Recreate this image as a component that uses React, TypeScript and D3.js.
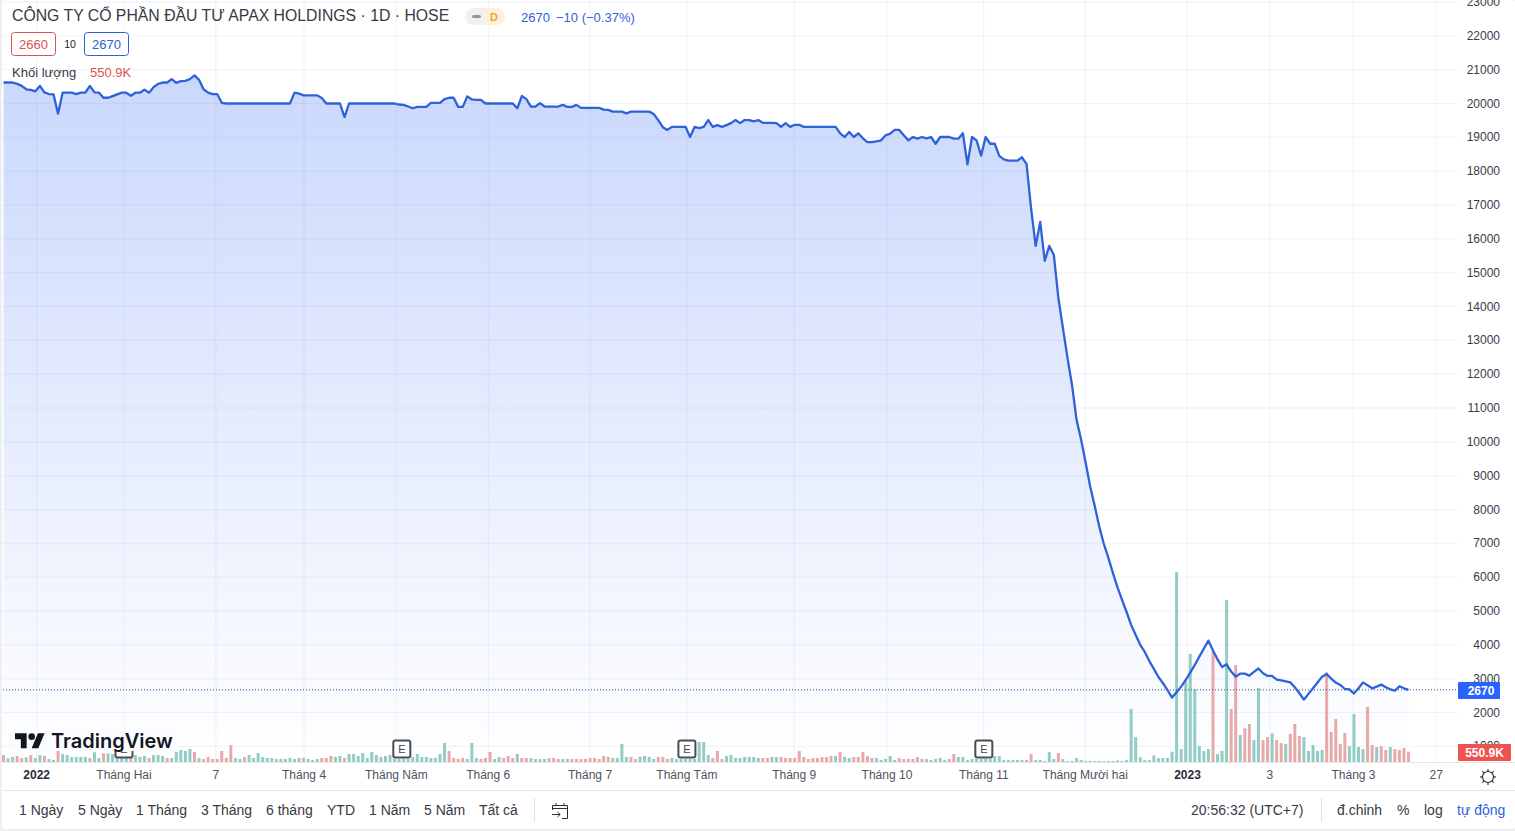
import * as d3 from "d3";

const closes = [
  20620, 20620, 20620, 20580, 20520, 20420, 20400, 20360, 20520, 20330,
  20280, 20270, 19700, 20320, 20320, 20320, 20280, 20320, 20320, 20520,
  20330, 20320, 20170, 20170, 20220, 20270, 20320, 20320, 20230, 20320,
  20320, 20410, 20320, 20480, 20580, 20620, 20620, 20720, 20610, 20660,
  20670, 20720, 20830, 20700, 20420, 20320, 20280, 20280, 20020, 20000,
  20000, 20000, 20000, 20000, 20000, 20000, 20000, 20000, 20000, 20000,
  20000, 20000, 20000, 20000, 20320, 20290, 20240, 20240, 20240, 20240,
  20160, 20000, 20000, 20000, 20000, 19600, 20000, 20000, 20000, 20000,
  20000, 20000, 20000, 20000, 20000, 20000, 20000, 19970, 19960, 19910,
  19860, 19900, 19900, 19900, 20020, 20020, 20020, 20130, 20170, 20170,
  19900, 19900, 20210, 20120, 20110, 20110, 20000, 20000, 20000, 20000,
  20000, 20000, 20000, 19860, 20220, 20130, 19910, 19910, 20010, 19910,
  19910, 19910, 19910, 19960, 19900, 19900, 19960, 19870, 19870, 19870,
  19870, 19870, 19820, 19810, 19760, 19760, 19760, 19710, 19760, 19760,
  19760, 19760, 19760, 19690, 19510, 19300, 19220, 19310, 19310, 19310,
  19310, 19010, 19310, 19270, 19310, 19510, 19310, 19360, 19310, 19360,
  19420, 19510, 19420, 19510, 19510, 19470, 19510, 19430, 19430, 19430,
  19420, 19310, 19420, 19310, 19370, 19370, 19310, 19310, 19310, 19310,
  19310, 19310, 19310, 19310, 19120, 19010, 19160, 19010, 19120, 18970,
  18860, 18860, 18880, 18910, 19060, 19110, 19220, 19220, 19060, 18910,
  19010, 18960, 19010, 18970, 19010, 18810, 19010, 19010, 19010, 18960,
  18960, 19120, 18200, 19010, 18910, 18460, 19010, 18810, 18810, 18450,
  18350, 18310, 18310, 18310, 18410, 18210, 16890, 15790, 16500, 15350,
  15790, 15520, 14250, 13360, 12480, 11680, 10650, 10060, 9380, 8670,
  8100, 7490, 6980, 6570, 6120, 5700, 5330, 4970, 4590, 4290,
  4000, 3790, 3520, 3290, 3050, 2870, 2660, 2440, 2600, 2765,
  2960, 3180, 3405, 3650, 3890, 4125, 3830, 3570, 3345, 3425,
  3210, 3060, 3150, 3150, 3090, 3200, 3300, 3160, 3080, 3080,
  2970, 2950, 2920, 2890, 2745, 2570, 2380, 2550, 2715, 2885,
  3060, 3140, 3000, 2885, 2815, 2695, 2685, 2560, 2715, 2890,
  2805, 2715, 2765, 2825, 2745, 2685, 2645, 2775, 2715, 2670,
];

// volume in thousands
const volumes = [
  375, 200, 270, 320, 215, 250, 375, 215, 375, 320,
  160, 110, 625, 430, 375, 270, 270, 270, 270, 215,
  520, 215, 465, 465, 430, 375, 320, 270, 320, 375,
  270, 320, 215, 375, 375, 320, 215, 215, 535, 640,
  590, 700, 535, 215, 160, 270, 160, 160, 590, 215,
  910, 215, 160, 270, 375, 215, 480, 270, 215, 215,
  160, 160, 160, 215, 160, 215, 230, 160, 110, 160,
  215, 215, 320, 270, 320, 215, 430, 430, 320, 480,
  215, 535, 375, 270, 320, 375, 160, 160, 160, 160,
  270, 430, 270, 270, 215, 215, 430, 1020, 590, 215,
  160, 215, 160, 1020, 215, 160, 215, 535, 160, 270,
  215, 320, 215, 430, 215, 215, 215, 160, 160, 160,
  215, 215, 160, 160, 160, 160, 160, 160, 160, 215,
  215, 160, 320, 270, 215, 215, 960, 270, 270, 160,
  270, 320, 270, 160, 270, 270, 160, 215, 160, 160,
  160, 160, 160, 1070, 1070, 375, 215, 590, 160, 320,
  375, 215, 215, 270, 270, 270, 215, 215, 215, 270,
  270, 270, 215, 215, 215, 590, 270, 160, 215, 215,
  270, 270, 320, 320, 535, 270, 215, 270, 270, 535,
  320, 215, 215, 110, 160, 320, 110, 215, 160, 160,
  160, 270, 160, 160, 110, 160, 215, 110, 160, 430,
  270, 270, 110, 160, 160, 160, 160, 160, 320, 320,
  110, 110, 110, 110, 110, 110, 430, 110, 110, 55,
  535, 160, 480, 160, 55, 55, 215, 110, 55, 55,
  55, 55, 40, 50, 50, 80, 50, 100, 2830, 1330,
  250, 100, 100, 350, 210, 210, 210, 550, 10150, 690,
  4290, 5770, 3900, 850, 590, 690, 5890, 430, 590, 8650,
  2830, 5180, 1440, 1800, 2030, 1170, 3950, 1170, 1330, 1530,
  1170, 1010, 960, 1500, 2030, 1390, 1330, 590, 910, 590,
  640, 4790, 1600, 2300, 960, 1550, 850, 2560, 800, 690,
  2940, 910, 800, 850, 640, 800, 690, 640, 750, 551,
];

// u = up bar, d = down bar, one letter per session
const volumeDirs = [
  "duudduduud", "uuduuuuuud", "uuduuuuudu", "uuduuuduuu", "uududddddd",
  "duuduuuuuu", "uuuuuuduuu", "ddduuduuuu", "uuuuuuuuuu", "uuuuuuuudd",
  "dduuuddduu", "dddudduuuu", "ddduuddddd", "dddduuuudd", "uuuuddduuu",
  "uuuuuudddu", "uuuuuuuddu", "uddddddddd", "ddduduuddd", "dduuuuuddd",
  "dduduuuudd", "uuuuuuuuuu", "uuuuudduuu", "uuduuuuuuu", "uuuuuuuuuu",
  "uuuuuuuuuu", "uuuuuuduuu", "ddudduuddu", "dduddduuuu", "uddddduuuu",
  "dduddudddd",
].join("");

const priceTicks = d3.range(1000, 23001, 1000);

const timeTicks = [
  { at: 7.3, label: "2022", bold: true },
  { at: 26.5, label: "Tháng Hai" },
  { at: 46.7, label: "7" },
  { at: 66.1, label: "Tháng 4" },
  { at: 86.4, label: "Tháng Năm" },
  { at: 106.6, label: "Tháng 6" },
  { at: 129, label: "Tháng 7" },
  { at: 150.3, label: "Tháng Tám" },
  { at: 173.9, label: "Tháng 9" },
  { at: 194.3, label: "Tháng 10" },
  { at: 215.6, label: "Tháng 11" },
  { at: 237.9, label: "Tháng Mười hai" },
  { at: 260.4, label: "2023", bold: true },
  { at: 278.5, label: "3" },
  { at: 296.9, label: "Tháng 3" },
  { at: 315.1, label: "27" },
];

const earningsAt = [26.5, 87.6, 150.3, 215.6];

const rangeButtons = [
  { x: 19, label: "1 Ngày" },
  { x: 78, label: "5 Ngày" },
  { x: 136, label: "1 Tháng" },
  { x: 201, label: "3 Tháng" },
  { x: 266, label: "6 tháng" },
  { x: 327, label: "YTD" },
  { x: 369, label: "1 Năm" },
  { x: 424, label: "5 Năm" },
  { x: 479, label: "Tất cả" },
];

const font = "'Liberation Sans', Arial, sans-serif";
const blue = "#2f62d8";
const red = "#d9534f";
const gridStroke = "rgba(120,140,200,0.11)";
const paneBottom = 762;

const x = d3.scaleLinear().domain([0, closes.length - 1]).range([3.5, 1408.5]);
const y = d3.scaleLinear().domain([2000, 23000]).range([712.5, 2]);
const yVol = d3.scaleLinear().domain([0, 10150]).range([paneBottom, 572]);

export default function App() {
  const line = d3.line<number>().x((_, i) => x(i)).y((d) => y(d));
  const area = d3.area<number>().x((_, i) => x(i)).y0(paneBottom).y1((d) => y(d));
  const lastY = y(closes[closes.length - 1]);

  return (
    <>
      <style>{`html,body{margin:0;background:#eceef2;overflow:hidden}`}</style>
      <svg width={1515} height={831} style={{ display: "block" }} fontFamily={font}>
        <defs>
          <linearGradient id="fade" gradientUnits="userSpaceOnUse" x1="0" y1="75" x2="0" y2={paneBottom}>
            <stop offset="0" stopColor="#cad8fc" />
            <stop offset="1" stopColor="#ffffff" />
          </linearGradient>
        </defs>
        <rect x={2} y={0} width={1513} height={829} rx={3} fill="#fff" />

        <path d={area(closes) ?? ""} fill="url(#fade)" />

        {/* grid sits over the fill, it shows through faintly */}
        {priceTicks.map((t) => (
          <line key={t} x1={3} x2={1457} y1={y(t)} y2={y(t)} stroke={gridStroke} />
        ))}
        {timeTicks.map((t) => (
          <line key={t.label} x1={x(t.at)} x2={x(t.at)} y1={0} y2={paneBottom} stroke={gridStroke} />
        ))}

        {volumes.map((v, i) => (
          <rect
            key={i}
            x={x(i) - 1.5}
            y={yVol(v)}
            width={3}
            height={paneBottom - yVol(v)}
            fill={volumeDirs[i] === "d" ? "#e8a9a9" : "#92ccc5"}
          />
        ))}

        <line x1={3} x2={1458} y1={lastY} y2={lastY} stroke="#2f4f9f" strokeDasharray="1 2" />
        <path d={line(closes) ?? ""} fill="none" stroke={blue} strokeWidth={2.3} strokeLinejoin="round" />

        {/* earnings markers */}
        {earningsAt.map((at) => (
          <g key={at} transform={`translate(${x(at)},749)`}>
            <rect x={-8.5} y={-8.5} width={17} height={17} rx={2} fill="#fff" stroke="#4a4d57" strokeWidth={2} />
            <text y={4} textAnchor="middle" fontSize={11} fill="#444">E</text>
          </g>
        ))}

        {/* watermark, its backing hides the top of the first marker */}
        <rect x={12} y={730} width={164} height={21} fill="#fbfcff" />
        <g fill="#131722">
          <g transform="translate(15,730) scale(0.833)">
            <path d="M14 22H7V11H0V4h14v18zM28 22h-8l7.5-18h8L28 22z" />
            <circle cx={20} cy={8} r={4} />
          </g>
          <text x={51} y={748} fontFamily="Inter, 'Open Sans', sans-serif" fontWeight={600} fontSize={20}>TradingView</text>
        </g>

        {/* price scale */}
        {priceTicks.map((t) => (
          <text key={t} x={1500} y={y(t) + 4} textAnchor="end" fontSize={12} fill="#3a3d47">{t}</text>
        ))}
        <rect x={1458} y={682} width={42} height={17} rx={1} fill="#2962ff" />
        <text x={1481} y={695} textAnchor="middle" fontSize={12} fontWeight={700} fill="#fff">2670</text>
        <rect x={1458} y={744} width={53} height={17} rx={1} fill="#ef5350" />
        <text x={1484.5} y={757} textAnchor="middle" fontSize={12} fontWeight={700} fill="#fff">550.9K</text>

        {/* time scale */}
        <line x1={3} x2={1515} y1={paneBottom + 0.5} y2={paneBottom + 0.5} stroke="#e4e6ec" />
        {timeTicks.map((t) => (
          <text
            key={t.label}
            x={x(t.at)}
            y={779}
            textAnchor="middle"
            fontSize={12}
            fontWeight={t.bold ? 700 : 400}
            fill={t.bold ? "#2a2e39" : "#50535e"}
          >
            {t.label}
          </text>
        ))}
        <g transform="translate(1488,777)" stroke="#2a2e39" strokeWidth={1.2} fill="none">
          <circle r={5.5} />
          {d3.range(0, 360, 45).map((a) => (
            <line key={a} x1={5.5} x2={8} transform={`rotate(${a})`} />
          ))}
        </g>
        <line x1={3} x2={1515} y1={790.5} y2={790.5} stroke="#e0e3eb" />

        {/* header */}
        <text x={12} y={21} fontSize={15.8} fill="#363a45">CÔNG TY CỔ PHẦN ĐẦU TƯ APAX HOLDINGS · 1D · HOSE</text>
        <rect x={465} y={8} width={40} height={17} rx={8.5} fill="#eff0f3" />
        <path d="M484 8h12.5a8.5 8.5 0 0 1 0 17H484z" fill="#fdf0dc" />
        <rect x={472} y={15} width={9} height={3} rx={1.5} fill="#9598a1" />
        <text x={494} y={21} textAnchor="middle" fontSize={11} fontWeight={700} fill="#f5a623">D</text>
        <text x={521} y={22} fontSize={13} fill={blue}>2670</text>
        <text x={556} y={22} fontSize={13} fill={blue}>−10 (−0.37%)</text>

        <rect x={11.5} y={32.5} width={44} height={23} rx={3} fill="#fff" stroke={red} />
        <text x={33.5} y={49} textAnchor="middle" fontSize={13} fill={red}>2660</text>
        <text x={70} y={48} textAnchor="middle" fontSize={10.5} fill="#222">10</text>
        <rect x={84.5} y={32.5} width={44} height={23} rx={3} fill="#fff" stroke={blue} />
        <text x={106.5} y={49} textAnchor="middle" fontSize={13} fill={blue}>2670</text>
        <text x={12} y={77} fontSize={13} fill="#363a45">Khối lượng</text>
        <text x={90} y={77} fontSize={13} fill={red}>550.9K</text>

        {/* bottom toolbar */}
        {rangeButtons.map((b) => (
          <text key={b.label} x={b.x} y={815} fontSize={14} fill="#363a45">{b.label}</text>
        ))}
        <line x1={534.5} x2={534.5} y1={798} y2={822} stroke="#e0e3eb" />
        <g transform="translate(552,802)" stroke="#2a2e39" strokeWidth={1} fill="none">
          <path d="M0.5 8V3.5h15V8M4 1v3M12 1v3M0.5 6.5h15M15.5 8v8.5H10" />
          <path d="M0 12.5h8M5.5 10l2.7 2.5-2.7 2.5" />
        </g>
        <text x={1191} y={815} fontSize={14} fill="#363a45">20:56:32 (UTC+7)</text>
        <line x1={1321.5} x2={1321.5} y1={798} y2={822} stroke="#e0e3eb" />
        <text x={1337} y={815} fontSize={14} fill="#363a45">đ.chỉnh</text>
        <text x={1397} y={815} fontSize={14} fill="#363a45">%</text>
        <text x={1424} y={815} fontSize={14} fill="#363a45">log</text>
        <text x={1457} y={815} fontSize={14} fill={blue}>tự động</text>
      </svg>
    </>
  );
}
